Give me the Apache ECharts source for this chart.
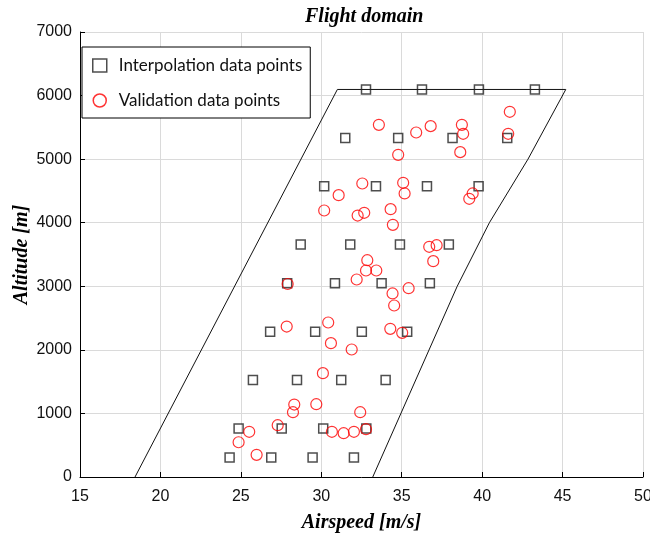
<!DOCTYPE html>
<html>
<head>
<meta charset="utf-8">
<script src="https://cdn.jsdelivr.net/npm/echarts@6/dist/echarts.min.js"></script>
<style>
  html, body { margin: 0; padding: 0; background: #fff; }
  #chart { width: 650px; height: 534px; }
</style>
</head>
<body>
<div id="chart"></div>
<script>
// flight envelope outline (airspeed m/s, altitude m)
var envelopeSpeed = [18.42, 31.0, 45.2, 42.85, 40.45, 38.45, 33.2];
var envelopeAlt   = [0, 6096, 6096, 5000, 4000, 3000, 0];

// interpolation grid: altitude levels and the 4 airspeeds at each
var interpAlt = [304.8, 762, 1524, 2286, 3048, 3657.6, 4572, 5334, 6096];
var interpSpeed = [
  [24.30, 26.89, 29.46, 32.03],
  [24.86, 27.54, 30.12, 32.80],
  [25.75, 28.49, 31.24, 34.00],
  [26.82, 29.62, 32.52, 35.34],
  [27.88, 30.85, 33.75, 36.75],
  [28.72, 31.80, 34.89, 37.93],
  [30.18, 33.40, 36.57, 39.78],
  [31.49, 34.78, 38.16, 41.56],
  [32.78, 36.26, 39.80, 43.28]
];

// validation points
var validSpeed = [
  41.72, 33.58, 36.80, 38.74, 35.90, 38.82, 41.62, 38.64, 34.78,
  32.55, 35.09, 35.18, 31.08, 39.41, 39.20, 30.18, 32.67, 32.26, 34.31, 34.45,
  36.71, 37.17, 36.96, 32.86, 32.78, 33.42, 32.20, 27.91, 35.43, 34.43, 34.53,
  27.85, 30.43, 30.60, 31.89, 34.29, 35.03, 30.10,
  28.32, 29.69, 28.24, 32.42, 27.29, 25.52, 24.86, 25.98, 30.66, 31.39, 32.03, 32.78
];
var validAlt = [
  5745, 5540, 5519, 5540, 5419, 5399, 5399, 5110, 5068,
  4617, 4628, 4460, 4433, 4460, 4376, 4192, 4156, 4113, 4213, 3967,
  3621, 3646, 3395, 3410, 3248, 3248, 3107, 3036, 2970, 2887, 2698,
  2367, 2430, 2105, 2006, 2331, 2268, 1633,
  1140, 1145, 1019, 1019, 815, 711, 547, 349, 711, 689, 711, 752
];

var envelopeData = envelopeSpeed.map(function (v, i) { return [v, envelopeAlt[i]]; });
var interpData = [];
interpAlt.forEach(function (a, i) {
  interpSpeed[i].forEach(function (v) { interpData.push([v, a]); });
});
var validData = validSpeed.map(function (v, i) { return [v, validAlt[i]]; });

var serifFont = '"Liberation Serif", "Times New Roman", serif';
var sansFont = 'Arial, "Liberation Sans", sans-serif';
var labelStyle = { fontFamily: serifFont, fontStyle: 'italic', fontWeight: 'bold', fontSize: 20, color: '#000' };

var myChart = echarts.init(document.getElementById('chart'));
var option = {
  backgroundColor: '#ffffff',
  animation: false,
  title: {
    text: 'Flight domain',
    left: 300,
    top: 2,
    textStyle: labelStyle
  },
  legend: {
    orient: 'vertical',
    left: 82,
    top: 47,
    padding: [10, 8, 9, 10],
    itemGap: 18,
    itemWidth: 14,
    itemHeight: 13,
    borderColor: '#000',
    borderWidth: 1,
    backgroundColor: '#fff',
    textStyle: { fontFamily: 'Lato, "Open Sans", sans-serif', fontSize: 17, color: '#111', padding: [0, 0, 0, 7] },
    data: [
      { name: 'Interpolation data points', icon: 'rect', itemStyle: { color: 'transparent', borderColor: '#222', borderWidth: 1.5 } },
      { name: 'Validation data points', icon: 'circle', itemStyle: { color: 'transparent', borderColor: '#ff0000', borderWidth: 1.5 } }
    ]
  },
  grid: { left: 80, right: 7, top: 32, bottom: 57, outerBoundsMode: 'none', containLabel: false },
  xAxis: {
    type: 'value',
    min: 15, max: 50, interval: 5,
    name: 'Airspeed [m/s]',
    nameLocation: 'middle',
    nameGap: 36,
    nameMoveOverlap: false,
    nameTextStyle: labelStyle,
    axisLine: { onZero: false, lineStyle: { color: '#000', width: 1 } },
    axisTick: { inside: true, length: 5, lineStyle: { color: '#000' } },
    axisLabel: { fontFamily: sansFont, fontSize: 16, color: '#111', margin: 12 },
    splitLine: { show: true, lineStyle: { color: '#dadada', width: 1 } }
  },
  yAxis: {
    type: 'value',
    min: 0, max: 7000, interval: 1000,
    name: 'Altitude [m]',
    nameLocation: 'middle',
    nameGap: 48,
    nameMoveOverlap: false,
    nameTextStyle: labelStyle,
    axisLine: { show: true, onZero: false, lineStyle: { color: '#000', width: 1 } },
    axisTick: { show: true, inside: true, length: 5, lineStyle: { color: '#000' } },
    axisLabel: {
      fontFamily: sansFont, fontSize: 16, color: '#111', margin: 8,
      formatter: function (v) { return String(v); }
    },
    splitLine: { show: true, lineStyle: { color: '#dadada', width: 1 } }
  },
  series: [
    {
      name: 'envelope',
      type: 'line',
      data: envelopeData,
      symbol: 'none',
      silent: true,
      lineStyle: { color: '#111', width: 1 },
      z: 1
    },
    {
      name: 'Interpolation data points',
      type: 'scatter',
      data: interpData,
      symbol: 'rect',
      symbolSize: 9,
      itemStyle: { color: 'transparent', borderColor: '#222', borderWidth: 1.5 },
      z: 3
    },
    {
      name: 'Validation data points',
      type: 'scatter',
      data: validData,
      symbol: 'circle',
      symbolSize: 11,
      itemStyle: { color: 'transparent', borderColor: '#ff0000', borderWidth: 1.2 },
      z: 4
    }
  ]
};
myChart.setOption(option);
</script>
</body>
</html>
